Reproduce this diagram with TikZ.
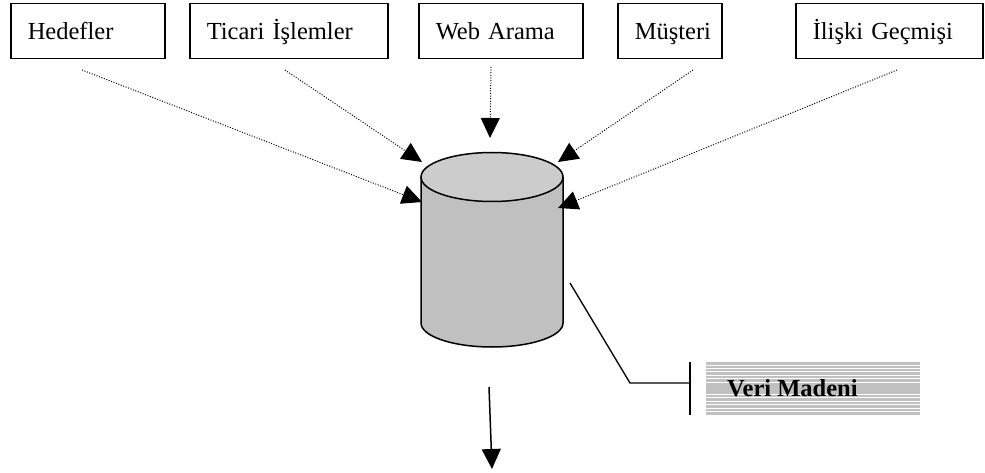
\documentclass[tikz,border=0pt]{standalone}
\usepackage{fontspec}
\setmainfont{Liberation Serif}
\usetikzlibrary{arrows.meta}
\begin{document}
\begin{tikzpicture}[x=1pt,y=-1pt,
  srcbox/.style={draw,line width=1.5pt,minimum height=55pt,inner xsep=17pt,inner ysep=0pt,text height=20pt,text depth=3pt,align=left,font=\fontsize{24.5}{29}\selectfont},
  feed/.style={line width=1pt,dash pattern=on 1pt off 1.6pt,-{Triangle[length=20pt,width=19pt]}},
  solidarrow/.style={line width=1.5pt,-{Triangle[length=20pt,width=19pt]}},
  leader/.style={line width=1.3pt}]
\useasboundingbox (0,0) rectangle (985,473);
% source boxes
\node[srcbox,text width=120pt,anchor=north west] (hed) at (10,3) {Hedefler};
\node[srcbox,text width=164pt,anchor=north west] (tic) at (189,3) {Ticari İşlemler};
\node[srcbox,text width=130pt,anchor=north west] (web) at (418,3) {Web Arama};
\node[srcbox,text width=70pt,anchor=north west] (mus) at (617,3) {Müşteri};
\node[srcbox,text width=153pt,anchor=north west] (ili) at (795,3) {İlişki Geçmişi};
% cylinder
\fill[fill={rgb,255:red,192;green,192;blue,192}] (421,177) -- (421,323) arc[start angle=180,end angle=0,x radius=71,y radius=24] -- (563,177) -- cycle;
\draw[line width=1.5pt] (421,177) -- (421,323) arc[start angle=180,end angle=0,x radius=71,y radius=24] -- (563,177);
\draw[line width=1.5pt,fill={rgb,255:red,204;green,204;blue,204}] (492,177) ellipse[x radius=71,y radius=24.5];
\node[inner sep=0pt,minimum width=142pt,minimum height=196pt] (db) at (492,250) {};
% arrow targets on the cylinder
\coordinate (tHed) at (422,202);
\coordinate (tTic) at (422,162);
\coordinate (tWeb) at (490,138);
\coordinate (tMus) at (558,162);
\coordinate (tIli) at (558,208);
\coordinate (sHed) at (82,70);
\coordinate (sTic) at (285,70);
\coordinate (sWeb) at (491,67);
\coordinate (sMus) at (693,70);
\coordinate (sIli) at (897,70);
\draw[feed] (sHed) -- (tHed);
\draw[feed] (sTic) -- (tTic);
\draw[feed] (sWeb) -- (tWeb);
\draw[feed] (sMus) -- (tMus);
\draw[feed] (sIli) -- (tIli);
% Veri Madeni label
\fill[fill={rgb,255:red,192;green,192;blue,192}] (706,362) rectangle (920,415);
\foreach \yy in {365.5,368.5,371.5,375,378.5,382,394,397.5,401,404.5,408,411.5}
  \draw[white,line width=0.8pt] (706,\yy) -- (920,\yy);
\node[anchor=west,inner sep=0pt,font=\fontsize{24.5}{29}\selectfont\bfseries] (vm) at (727,388) {Veri Madeni};
\coordinate (lA) at (570,283);
\coordinate (lB) at (630,383);
\coordinate (lC) at (690,383);
\draw[leader] (lA) -- (lB) -- (lC);
\draw[leader] (690,362) -- (690,415);
% output arrow
\coordinate (oS) at (489,387);
\coordinate (oT) at (492,469);
\draw[solidarrow] (oS) -- (oT);
\end{tikzpicture}
\end{document}
